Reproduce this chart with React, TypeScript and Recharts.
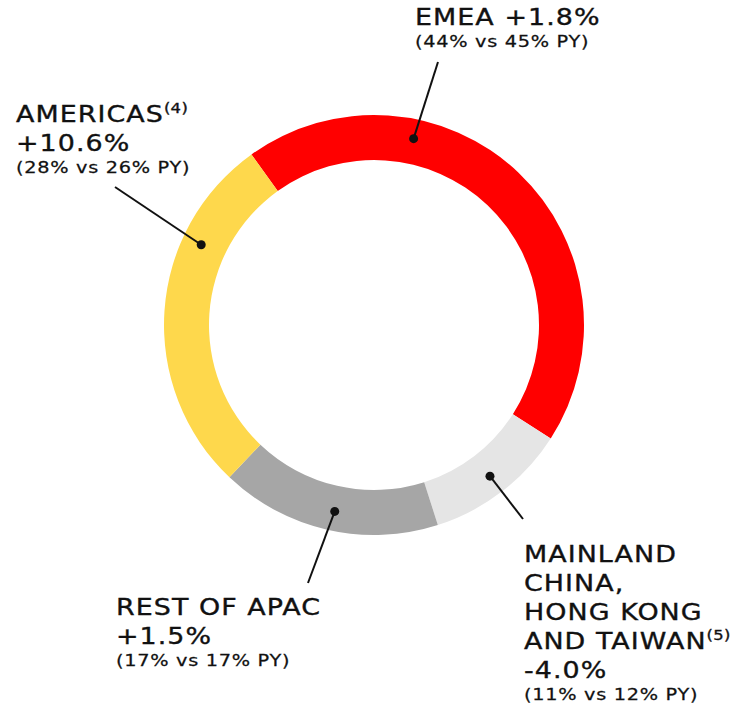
import { PieChart, Pie, Cell } from 'recharts'

const regions = ['EMEA', 'MAINLAND CHINA, HONG KONG AND TAIWAN', 'REST OF APAC', 'AMERICAS']
const shares = [44, 11, 17, 28]
const prevShares = [45, 12, 17, 26]
const growth = ['+1.8%', '-4.0%', '+1.5%', '+10.6%']
const footnotes = ['', '(5)', '', '(4)']
const colors = ['#FF0000', '#E5E5E5', '#A6A6A6', '#FED84C']

// how each region name is broken into lines
const nameLines = [['EMEA +1.8%'], ['MAINLAND', 'CHINA,', 'HONG KONG', 'AND TAIWAN'], ['REST OF APAC'], ['AMERICAS']]

const data = regions.map((name, i) => ({
  name,
  value: shares[i],
  prev: prevShares[i],
  growth: growth[i],
  note: footnotes[i],
  lines: nameLines[i],
  color: colors[i],
}))

// annotation layout: text block start, leader line end, dot shift from mid angle (clockwise deg)
const layout = [
  { x: 415, y: 25, lx: 438, ly: 62, shift: -31.5, growthInline: true },
  { x: 524, y: 562, lx: 523, ly: 519, shift: 0, growthInline: false },
  { x: 116, y: 615, lx: 308, ly: 583, shift: -1, growthInline: false },
  { x: 16, y: 122, lx: 115, ly: 187, shift: 21, growthInline: false },
]

const FONT = '"DejaVu Sans", sans-serif'
const RAD = Math.PI / 180
const LINE_H = 29
const SX = 1.17 // the original face is wider than anything installed

function Annotation(props: any) {
  const { cx, cy, midAngle, innerRadius, outerRadius, index, payload } = props
  const l = layout[index]
  const ang = midAngle - l.shift
  const r = (innerRadius + outerRadius) / 2 + 3
  const dx = cx + r * Math.cos(ang * RAD)
  const dy = cy - r * Math.sin(ang * RAD)
  const rows: string[] = [...payload.lines]
  if (!l.growthInline) rows.push(payload.growth)
  const lastName = payload.lines.length - 1
  const subY = l.y + (rows.length - 1) * LINE_H + 22
  return (
    <g>
      <line x1={dx} y1={dy} x2={l.lx} y2={l.ly} stroke="#111" strokeWidth={2} />
      <circle cx={dx} cy={dy} r={4.5} fill="#111" />
      <g transform={`translate(${l.x},0) scale(${SX},1)`}>
        <text fontFamily={FONT} fill="#111" stroke="#111" strokeWidth={0.35} fontSize={23} letterSpacing={0.9}>
          {rows.map((row, i) => (
            <tspan key={i} x={0} y={l.y + i * LINE_H}>
              {row}
              {i === lastName && payload.note ? (
                <tspan fontSize={14} dy={-9} letterSpacing={0.3}>
                  {payload.note}
                </tspan>
              ) : null}
            </tspan>
          ))}
        </text>
        <text x={0} y={subY} fontFamily={FONT} fill="#111" stroke="#111" strokeWidth={0.25} fontSize={16.5} letterSpacing={0.6}>
          {`(${payload.value}% vs ${payload.prev}% PY)`}
        </text>
      </g>
    </g>
  )
}

export default function App() {
  return (
    <div style={{ position: 'absolute', left: 0, top: 0, width: 751, height: 704, background: '#fff' }}>
      <PieChart width={751} height={704} margin={{ top: 0, right: 0, bottom: 0, left: 0 }}>
        <Pie
          data={data}
          dataKey="value"
          cx={374}
          cy={325}
          innerRadius={165}
          outerRadius={210}
          startAngle={125.7}
          endAngle={-234.3}
          stroke="none"
          label={Annotation}
          labelLine={false}
          isAnimationActive={false}
        >
          {data.map((d) => (
            <Cell key={d.name} fill={d.color} />
          ))}
        </Pie>
      </PieChart>
    </div>
  )
}
